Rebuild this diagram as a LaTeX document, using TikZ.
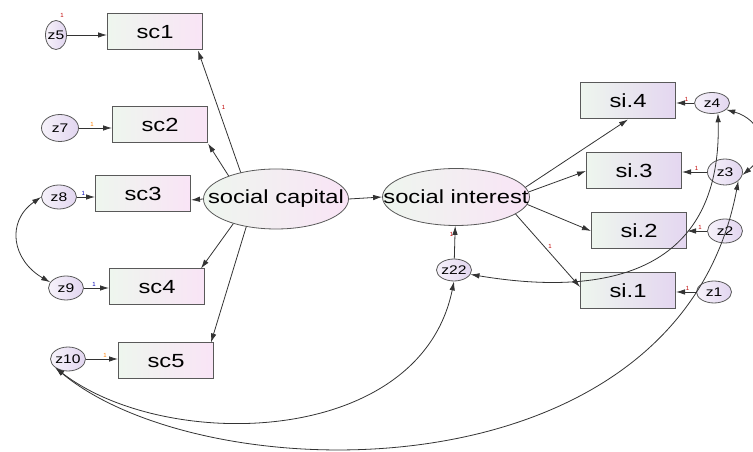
\documentclass[tikz,border=0pt]{standalone}
\usepackage{fontspec}
\setmainfont{Liberation Sans}
\usetikzlibrary{arrows.meta,positioning,shapes.geometric}

\definecolor{boxgreen}{RGB}{238,246,238}
\definecolor{boxpink}{RGB}{249,228,246}
\definecolor{boxlav}{RGB}{228,214,240}
\definecolor{errleft}{RGB}{246,242,250}
\definecolor{errright}{RGB}{226,214,240}

\newcommand{\wtext}[1]{\makebox[0pt]{\scalebox{1.25}[1]{#1}}}

\begin{document}
\begin{tikzpicture}[
  x=1pt, y=1pt,
  obs/.style={draw=black!65, line width=1pt, rectangle, minimum width=95pt, minimum height=36pt, inner sep=0pt,
    left color=boxgreen, right color=boxpink, font=\fontsize{19}{22}\selectfont},
  obsR/.style={obs, right color=boxlav},
  lat/.style={draw=black!65, line width=0.8pt, ellipse, inner sep=0pt,
    left color=boxgreen, right color=boxpink, font=\fontsize{19}{22}\selectfont},
  err/.style={draw=black!65, line width=0.8pt, ellipse, minimum width=35pt, minimum height=24pt, inner sep=0pt,
    left color=errleft, right color=errright, font=\fontsize{12.5}{14}\selectfont},
  one/.style={font=\fontsize{6}{7}\selectfont, text=red!75!black, inner sep=0.5pt},
  reg/.style={draw=black!80, line width=0.8pt, -{Latex[length=9pt,width=5.5pt]}},
  cov/.style={draw=black!80, line width=0.8pt, {Latex[length=9pt,width=5.5pt]}-{Latex[length=9pt,width=5.5pt]}}
]
\useasboundingbox (0,0) rectangle (753,452);

% --- latent variables ---
\node[lat, minimum width=145pt, minimum height=60pt] (cap) at (276,253) {\wtext{social capital}};
\node[lat, minimum width=147pt, minimum height=57pt] (int) at (456,255) {\wtext{social interest}};

% --- social capital indicators ---
\node[obs] (sc1) at (155,420) {\wtext{sc1}};
\node[obs] (sc2) at (160,327) {\wtext{sc2}};
\node[obs] (sc3) at (143,258) {\wtext{sc3}};
\node[obs] (sc4) at (157,165) {\wtext{sc4}};
\node[obs] (sc5) at (166,91)  {\wtext{sc5}};

\node[err, minimum width=21pt, minimum height=29pt] (z5) at (56,417) {\wtext{z5}};
\node[err, minimum width=37pt, minimum height=27pt] (z7) at (60,324) {\wtext{z7}};
\node[err] (z8)  at (59,255) {\wtext{z8}};
\node[err] (z9)  at (66,164) {\wtext{z9}};
\node[err] (z10) at (68,93)  {\wtext{z10}};

% --- social interest indicators ---
\node[obsR] (si4) at (628,351) {\wtext{si.4}};
\node[obsR] (si3) at (634,281) {\wtext{si.3}};
\node[obsR] (si2) at (639,221) {\wtext{si.2}};
\node[obsR] (si1) at (628,161) {\wtext{si.1}};

\node[err, minimum height=21pt] (z4) at (712,349) {\wtext{z4}};
\node[err, minimum height=26pt] (z3) at (725,280) {\wtext{z3}};
\node[err] (z2)  at (725,221) {\wtext{z2}};
\node[err, minimum height=22pt] (z1) at (714,160) {\wtext{z1}};
\node[err, minimum height=22pt] (z22) at (454,182) {\wtext{z22}};

% --- loadings ---
\draw[reg] (cap.143) -- ([xshift=-5pt]sc1.south east) node[one, pos=0.53, right=3pt] {1};
\draw[reg] (cap.154) -- (sc2.south east);
\draw[reg] (cap.west) -- ([yshift=-6pt]sc3.east);
\draw[reg] (cap.210) -- ([xshift=-4pt]sc4.north east);
\draw[reg] (cap.223) -- ([xshift=-3pt]sc5.north east);

\draw[reg] (cap.east) -- (int.west);

\draw[reg] (int.8)   -- (si4.south);
\draw[reg] (int.4)   -- (si3.west);
\draw[reg] (int.354) -- (si2.west);
\draw[reg] (int.344) -- ([yshift=4pt]si1.west) node[one, pos=0.45, right=3pt] {1};

\draw[reg] (z22) -- (int) node[one, pos=0.75, left=1pt] {1};

% --- error terms ---
\draw[reg] (z5.east)  -- (z5.east -| sc1.west);
\node[one] (onez5) at ([shift={(6pt,5pt)}]z5.north) {1};
\draw[reg] (z7.east)  -- (z7.east -| sc2.west)  node[one, pos=0.4, above=1pt, text=orange] {1};
\draw[reg] (z8.east)  -- (z8.east -| sc3.west)  node[one, pos=0.35, above=1pt, text=blue!70!black] {1};
\draw[reg] (z9.east)  -- (z9.east -| sc4.west)  node[one, pos=0.4, above=1pt, text=blue!70!black] {1};
\draw[reg] (z10.east) -- (z10.east -| sc5.west) node[one, pos=0.6, above=1pt, text=orange] {1};

\draw[reg] (z4.west) -- (z4.west -| si4.east) node[one, pos=0.42, above=1pt] {1};
\draw[reg] (z3.west) -- (z3.west -| si3.east) node[one, pos=0.42, above=1pt] {1};
\draw[reg] (z2.west) -- (z2.west -| si2.east) node[one, pos=0.35, above=1pt] {1};
\draw[reg] (z1.west) -- (z1.west -| si1.east) node[one, pos=0.43, above=1pt] {1};

% --- covariances ---
\draw[cov] (z8.west) to[out=215, in=150, looseness=1.3] (z9.160);
\draw[cov] (z22.345) .. controls +(150,-25) and +(4,-150) .. (z4.300);
\draw[cov] (z10.215) .. controls +(110,-85) and +(-34,-166) .. (z22.south);
\draw[cov] (z10.215) .. controls +(150,-125) and +(-60,-320) .. (z3.326);
\draw[cov] (z4.335) .. controls +(35,-10) and +(30,25) .. (z3.350);

\end{tikzpicture}
\end{document}
